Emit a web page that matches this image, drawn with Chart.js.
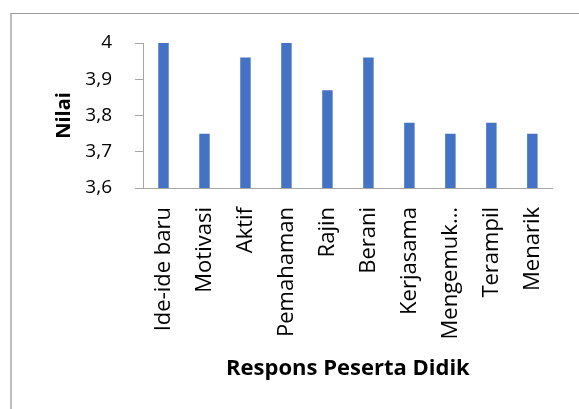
<!DOCTYPE html>
<html>
<head>
<meta charset="utf-8">
<script src="https://cdn.jsdelivr.net/npm/chart.js@4/dist/chart.umd.min.js"></script>
<style>
  html, body { margin: 0; padding: 0; background: #fff; }
  #wrap { position: relative; width: 579px; height: 409px; }
  #frame {
    position: absolute; left: 10px; top: 13px; right: 0; bottom: 0;
    border-left: 2px solid #bcbcbc; border-top: 1px solid #9a9a9a;
  }
  canvas { position: absolute; left: 0; top: 0; }
</style>
</head>
<body>
<div id="wrap">
  <div id="frame"></div>
  <canvas id="grafik" width="579" height="409"></canvas>
</div>
<script>
// data dari gambar
const kategori = ['Ide-ide baru', 'Motivasi', 'Aktif', 'Pemahaman', 'Rajin', 'Berani', 'Kerjasama', 'Mengemuk…', 'Terampil', 'Menarik'];
const nilai = [4, 3.75, 3.96, 4, 3.87, 3.96, 3.78, 3.75, 3.78, 3.75];
const sumbuMin = 3.6;
const sumbuMax = 4;
const langkah = 0.1;

const huruf = "'Open Sans', 'Liberation Sans', sans-serif";
const abu = '#a6a6a6';

const ctx = document.getElementById('grafik');

new Chart(ctx, {
  type: 'bar',
  data: {
    labels: kategori,
    datasets: [{
      label: 'Nilai',
      data: nilai,
      backgroundColor: '#4472c4',
      barPercentage: 0.5,
      categoryPercentage: 0.51
    }]
  },
  options: {
    responsive: false,
    animation: false,
    layout: { padding: { left: 50, right: 25, top: 43, bottom: 27 } },
    plugins: {
      legend: { display: false },
      tooltip: { enabled: false }
    },
    scales: {
      x: {
        grid: { display: false, drawTicks: false },
        border: { color: abu, width: 1 },
        ticks: {
          minRotation: 90, maxRotation: 90, autoSkip: false, padding: 19,
          color: '#000', font: { family: huruf, size: 22 }
        },
        title: {
          display: true, text: 'Respons Peserta Didik', color: '#000',
          font: { family: huruf, size: 22, weight: 'bold' },
          padding: { top: 0, bottom: 0 }
        },
        afterFit: (s) => { s.height = 194; }
      },
      y: {
        min: sumbuMin,
        max: sumbuMax,
        grid: { drawOnChartArea: false, tickLength: 8, color: abu },
        border: { color: abu, width: 1 },
        ticks: {
          stepSize: langkah, padding: 23, color: '#000',
          font: { family: huruf, size: 19 },
          callback: (v) => (Math.round(v * 10) / 10).toString().replace('.', ',')
        },
        title: {
          display: true, text: 'Nilai', color: '#000',
          font: { family: huruf, size: 20, weight: 'bold' },
          padding: { top: 2, bottom: 0 }
        },
        afterFit: (s) => { s.width = 93; }
      }
    }
  }
});
</script>
</body>
</html>
